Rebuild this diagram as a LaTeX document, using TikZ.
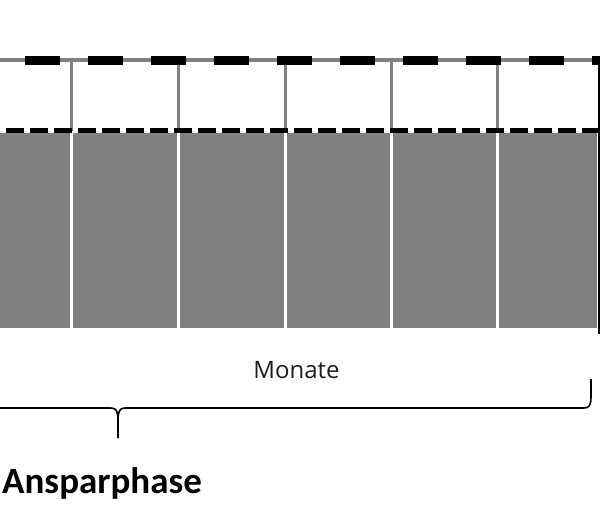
\documentclass[tikz,border=0pt]{standalone}
\usepackage{fontspec}
\setmainfont{Open Sans}
\newfontfamily\carl{Carlito}
\definecolor{bargray}{HTML}{808080}
\definecolor{linegray}{HTML}{808080}
\definecolor{txtdark}{HTML}{1E1E1E}
\begin{document}
\begin{tikzpicture}[x=1pt,y=-1pt,
  bar/.style={fill=bargray,draw=none},
  sep/.style={draw=linegray,line width=3.5pt},
  topdash/.style={draw=black,line width=9pt,dash pattern=on 35pt off 28pt,dash phase=38pt},
  lowdash/.style={draw=black,line width=5pt,dash pattern=on 18pt off 6pt,dash phase=18pt},
  bracestyle/.style={draw=black,line width=1.6pt,line join=round},
  lbl/.style={inner sep=0pt,anchor=base}]
\useasboundingbox (0,0) rectangle (600,512);
% gray month bars
\foreach \a/\b in {0/69.5,73/176.5,180/283.5,287/389.5,393/495.5,499/597}
  \fill[bar] (\a,133) rectangle (\b,328);
% gray separators in the upper band
\foreach \x in {71.25,178.25,285.25,391.25,497.25}
  \draw[sep] (\x,60) -- (\x,131);
% top gray line with black dashes
\coordinate (tl) at (0,60);
\coordinate (tr) at (600,60);
\draw[draw=linegray,line width=4pt] (tl) -- (tr);
\draw[topdash] (tl) -- (tr);
% lower dashed line
\coordinate (ll) at (0,130.5);
\coordinate (lr) at (600,130.5);
\draw[lowdash] (ll) -- (lr);
% right black edge
\coordinate (rt) at (599.2,60);
\coordinate (rb) at (599.2,334);
\draw[black,line width=1.6pt] (rt) -- (rb);
% brace
\coordinate (bl) at (0,408);
\coordinate (btip) at (118,438);
\coordinate (bre) at (591,379);
\draw[bracestyle] (bl) -- (111,408) .. controls (116,408) and (118,411) .. (118,420) -- (btip);
\draw[bracestyle] (118,420) .. controls (118,411) and (120,408) .. (125,408) -- (584,408)
  .. controls (589,408) and (591,405) .. (591,398) -- (bre);
% labels
\node[lbl,text=txtdark,font=\fontsize{24}{28}\selectfont] (monate) at (296.5,378) {Monate};
\node[lbl,anchor=base west,text=black,font=\carl\bfseries\fontsize{37}{40}\selectfont] (ansp) at (2,493) {Ansparphase};
\end{tikzpicture}
\end{document}
